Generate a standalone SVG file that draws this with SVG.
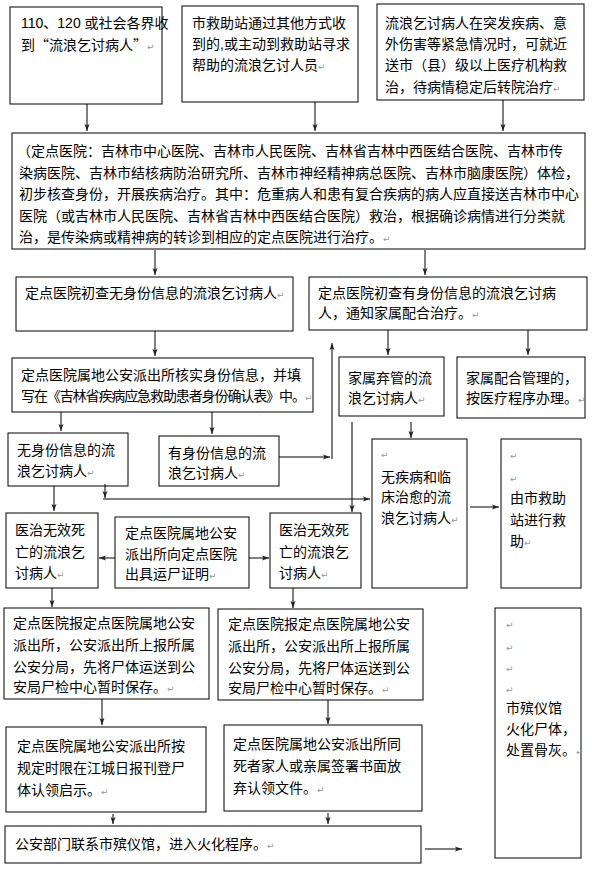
<svg xmlns="http://www.w3.org/2000/svg" width="592" height="876" viewBox="0 0 592 876">
<defs>
<style>
.box{fill:#fff;stroke:#000;stroke-width:1}
text{font-family:"Liberation Sans","Noto Sans CJK SC",sans-serif;font-size:14px;fill:#000}
.cjk{font-family:"Noto Sans CJK SC",sans-serif}
.pm{font-family:"DejaVu Sans","Noto Sans CJK SC",sans-serif;font-size:9px;fill:#999}
.c{stroke:#000;stroke-width:1;fill:none}
.g{stroke:#555;stroke-width:1.5;fill:none}
</style>
<marker id="ah" markerWidth="8" markerHeight="8" refX="7" refY="4" orient="auto" markerUnits="userSpaceOnUse">
<path d="M0,1.5 L7,4 L0,6.5 L1.5,4 z" fill="#222"/>
</marker>
</defs>
<rect width="592" height="876" fill="#fff"/>

<g id="nA"><rect class="box" x="10" y="7" width="152" height="97"/>
<text x="21" y="28">110、120 或社会各界收</text>
<text x="21" y="50" class="cjk">到“流浪乞讨病人”<tspan class="pm">↵</tspan></text></g>

<g id="nB"><rect class="box" x="182" y="6" width="176" height="96"/>
<text x="192" y="28">市救助站通过其他方式收</text>
<text x="192" y="49">到的,或主动到救助站寻求</text>
<text x="192" y="70">帮助的流浪乞讨人员<tspan class="pm">↵</tspan></text></g>

<g id="nC"><rect class="box" x="377" y="4" width="207" height="96"/>
<text x="385" y="28">流浪乞讨病人在突发疾病、意</text>
<text x="385" y="49">外伤害等紧急情况时，可就近</text>
<text x="385" y="70">送市（县）级以上医疗机构救</text>
<text x="385" y="92">治，待病情稳定后转院治疗<tspan class="pm">↵</tspan></text></g>

<g id="nD"><rect class="box" x="12" y="133" width="573" height="116"/>
<text x="17" y="156">（定点医院：吉林市中心医院、吉林市人民医院、吉林省吉林中西医结合医院、吉林市传</text>
<text x="19" y="178">染病医院、吉林市结核病防治研究所、吉林市神经精神病总医院、吉林市脑康医院）体检，</text>
<text x="19" y="199">初步核查身份，开展疾病治疗。其中：危重病人和患有复合疾病的病人应直接送吉林市中心</text>
<text x="19" y="221">医院（或吉林市人民医院、吉林省吉林中西医结合医院）救治，根据确诊病情进行分类就</text>
<text x="19" y="242">治，是传染病或精神病的转诊到相应的定点医院进行治疗。<tspan class="pm">↵</tspan></text></g>

<g id="nE"><rect class="box" x="16" y="277" width="277" height="54"/>
<text x="25" y="298">定点医院初查无身份信息的流浪乞讨病人<tspan class="pm">↵</tspan></text></g>

<g id="nG"><rect class="box" x="309" y="277" width="278" height="53"/>
<text x="318" y="298">定点医院初查有身份信息的流浪乞讨病</text>
<text x="318" y="318">人，通知家属配合治疗。<tspan class="pm">↵</tspan></text></g>

<g id="nF"><rect class="box" x="12" y="358" width="301" height="54"/>
<text x="21" y="380">定点医院属地公安派出所核实身份信息，并填</text>
<text x="21" y="401" letter-spacing="-1.1">写在《吉林省疾病应急救助患者身份确认表》中。</text>
<text class="pm" x="305" y="401">↵</text></g>

<g id="nH"><rect class="box" x="339" y="357" width="105" height="59"/>
<text x="348" y="383">家属弃管的流</text>
<text x="348" y="403">浪乞讨病人<tspan class="pm">↵</tspan></text></g>

<g id="nI"><rect class="box" x="457" y="357" width="128" height="61"/>
<text x="466" y="383">家属配合管理的，</text>
<text x="466" y="403">按医疗程序办理。<tspan class="pm">↵</tspan></text></g>

<g id="nJ"><rect class="box" x="8" y="433" width="120" height="53"/>
<text x="17" y="455">无身份信息的流</text>
<text x="17" y="476">浪乞讨病人<tspan class="pm">↵</tspan></text></g>

<g id="nK"><rect class="box" x="159" y="436" width="120" height="50"/>
<text x="168" y="458">有身份信息的流</text>
<text x="168" y="478">浪乞讨病人<tspan class="pm">↵</tspan></text></g>

<g id="nL"><rect class="box" x="372" y="439" width="95" height="149"/>
<text class="pm" x="381" y="458">↵</text>
<text x="381" y="482">无疾病和临</text>
<text x="381" y="502">床治愈的流</text>
<text x="381" y="523">浪乞讨病人<tspan class="pm">↵</tspan></text></g>

<g id="nN"><rect class="box" x="501" y="439" width="80" height="149"/>
<text class="pm" x="510" y="459">↵</text>
<text class="pm" x="510" y="482">↵</text>
<text x="510" y="503">由市救助</text>
<text x="510" y="525">站进行救</text>
<text x="510" y="546">助<tspan class="pm">↵</tspan></text></g>

<g id="nO"><rect class="box" x="6" y="513" width="92" height="75"/>
<text x="15" y="535">医治无效死</text>
<text x="15" y="557">亡的流浪乞</text>
<text x="15" y="578">讨病人<tspan class="pm">↵</tspan></text></g>

<g id="nP"><rect class="box" x="115" y="517" width="134" height="71"/>
<text x="125" y="538">定点医院属地公安</text>
<text x="125" y="559">派出所向定点医院</text>
<text x="125" y="579">出具运尸证明<tspan class="pm">↵</tspan></text></g>

<g id="nM"><rect class="box" x="270" y="513" width="91" height="75"/>
<text x="279" y="535">医治无效死</text>
<text x="279" y="557">亡的流浪乞</text>
<text x="279" y="578">讨病人<tspan class="pm">↵</tspan></text></g>

<g id="nQ"><rect class="box" x="4" y="608" width="205" height="91"/>
<text x="13" y="628">定点医院报定点医院属地公安</text>
<text x="13" y="650">派出所，公安派出所上报所属</text>
<text x="13" y="672">公安分局，先将尸体运送到公</text>
<text x="13" y="692">安局尸检中心暂时保存。<tspan class="pm">↵</tspan></text></g>

<g id="nR"><rect class="box" x="218" y="609" width="205" height="91"/>
<text x="228" y="629">定点医院报定点医院属地公安</text>
<text x="228" y="651">派出所，公安派出所上报所属</text>
<text x="228" y="673">公安分局，先将尸体运送到公</text>
<text x="228" y="693">安局尸检中心暂时保存。<tspan class="pm">↵</tspan></text></g>

<g id="nS"><rect class="box" x="495" y="608" width="86" height="250"/>
<text class="pm" x="506" y="628">↵</text>
<text class="pm" x="506" y="651">↵</text>
<text class="pm" x="506" y="672">↵</text>
<text class="pm" x="506" y="693">↵</text>
<text x="506" y="713">市殡仪馆</text>
<text x="506" y="734">火化尸体，</text>
<text x="506" y="755">处置骨灰。<tspan class="pm">↵</tspan></text></g>

<g id="nV"><rect class="box" x="6" y="727" width="200" height="85"/>
<text x="17" y="751">定点医院属地公安派出所按</text>
<text x="17" y="773">规定时限在江城日报刊登尸</text>
<text x="17" y="795">体认领启示。<tspan class="pm">↵</tspan></text></g>

<g id="nW"><rect class="box" x="224" y="725" width="198" height="86"/>
<text x="233" y="749">定点医院属地公安派出所同</text>
<text x="233" y="771">死者家人或亲属签署书面放</text>
<text x="233" y="793">弃认领文件。<tspan class="pm">↵</tspan></text></g>

<g id="nT"><rect class="box" x="5" y="826" width="416" height="37"/>
<text x="15" y="849">公安部门联系市殡仪馆，进入火化程序。<tspan class="pm">↵</tspan></text></g>

<g id="connectors">
<line class="c" x1="87" y1="104" x2="87" y2="131" marker-end="url(#ah)"/>
<line class="c" x1="315" y1="102" x2="315" y2="131" marker-end="url(#ah)"/>
<line class="c" x1="503" y1="100" x2="503" y2="131" marker-end="url(#ah)"/>
<line class="c" x1="155" y1="250" x2="155" y2="275" marker-end="url(#ah)"/>
<line class="c" x1="425" y1="250" x2="425" y2="275" marker-end="url(#ah)"/>
<line class="c" x1="155" y1="331" x2="155" y2="356" marker-end="url(#ah)"/>
<line class="c" x1="388" y1="330" x2="388" y2="355" marker-end="url(#ah)"/>
<line class="c" x1="528" y1="330" x2="528" y2="355" marker-end="url(#ah)"/>
<line class="c" x1="61" y1="412" x2="61" y2="431" marker-end="url(#ah)"/>
<line class="c" x1="212" y1="412" x2="212" y2="434" marker-end="url(#ah)"/>
<line class="c" x1="279" y1="457" x2="330" y2="457" marker-end="url(#ah)"/>
<line class="g" x1="332" y1="459" x2="332" y2="343" marker-end="url(#ah)"/>
<line class="c" x1="54" y1="486" x2="54" y2="511" marker-end="url(#ah)"/>
<line class="c" x1="105" y1="484" x2="105" y2="498" marker-end="url(#ah)"/>
<line class="g" x1="103" y1="499" x2="370" y2="499" marker-end="url(#ah)"/>
<line class="c" x1="352" y1="422" x2="352" y2="512" marker-end="url(#ah)"/>
<line class="c" x1="411" y1="422" x2="411" y2="438" marker-end="url(#ah)"/>
<line class="g" x1="470" y1="507" x2="499" y2="507" marker-end="url(#ah)"/>
<line class="c" x1="115" y1="558" x2="99" y2="558" marker-end="url(#ah)"/>
<line class="c" x1="249" y1="558" x2="269" y2="558" marker-end="url(#ah)"/>
<line class="c" x1="52" y1="588" x2="52" y2="607" marker-end="url(#ah)"/>
<line class="c" x1="293" y1="588" x2="293" y2="608" marker-end="url(#ah)"/>
<line class="c" x1="102" y1="699" x2="102" y2="725" marker-end="url(#ah)"/>
<line class="c" x1="328" y1="700" x2="328" y2="724" marker-end="url(#ah)"/>
<line class="c" x1="113" y1="814" x2="113" y2="824" marker-end="url(#ah)"/>
<line class="c" x1="328" y1="813" x2="328" y2="824" marker-end="url(#ah)"/>
<line class="c" x1="425" y1="849" x2="462" y2="849" marker-end="url(#ah)"/>
</g>
</svg>
